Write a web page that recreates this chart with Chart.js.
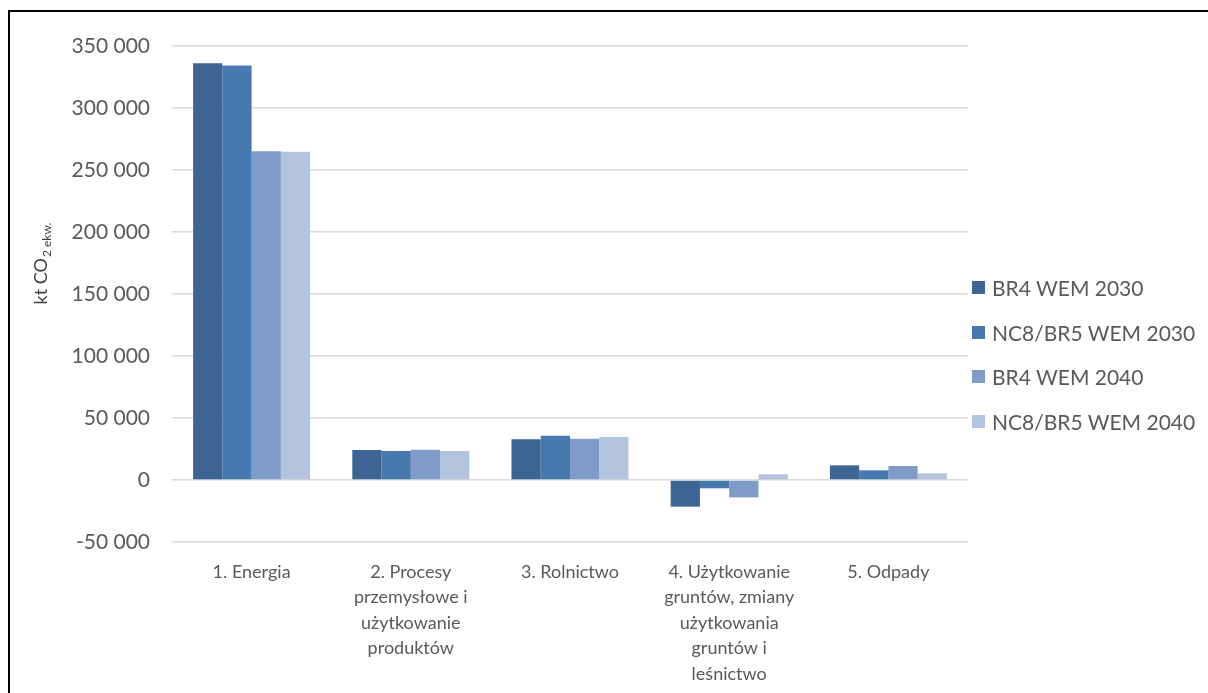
<!DOCTYPE html>
<html lang="pl">
<head>
<meta charset="utf-8">
<script src="https://cdn.jsdelivr.net/npm/chart.js@4/dist/chart.umd.min.js"></script>
<style>
	html, body { margin: 0; padding: 0; background: #fff; overflow: hidden; }
	#wrap { position: relative; width: 1208px; height: 693px; }
	#frame { position: absolute; left: 8px; top: 10px; width: 1400px; height: 900px; border-left: 2px solid #000; border-top: 2px solid #000; }
	#chart { position: absolute; left: 0; top: 0; }
	#legend { position: absolute; left: 972px; top: 265px; font-family: Lato, 'Liberation Sans', sans-serif; font-size: 21px; color: #595959; }
	#legend div { height: 44.7px; display: flex; align-items: center; white-space: nowrap; }
	#legend span.box { display: inline-block; width: 13px; height: 13px; margin-right: 7px; }
</style>
</head>
<body>
<div id="wrap">
	<div id="frame"></div>
	<canvas id="chart" width="1208" height="693"></canvas>
	<div id="legend"></div>
</div>
<script>
	// Sektory emisji i wartości dla scenariuszy (kt CO2 ekw.)
	const categories = [
		'1. Energia',
		['2. Procesy', 'przemysłowe i', 'użytkowanie', 'produktów'],
		'3. Rolnictwo',
		['4. Użytkowanie', 'gruntów, zmiany', 'użytkowania', 'gruntów i', 'leśnictwo'],
		'5. Odpady'
	]
	const seriesNames = ['BR4 WEM 2030', 'NC8/BR5 WEM 2030', 'BR4 WEM 2040', 'NC8/BR5 WEM 2040']
	const br4Wem2030 = [336000, 24200, 32800, -21500, 11800]
	const nc8Wem2030 = [334300, 23400, 35700, -6700, 7800]
	const br4Wem2040 = [265200, 24400, 33300, -14000, 11300]
	const nc8Wem2040 = [264700, 23400, 34700, 4600, 5400]
	const yTicks = [-50000, 0, 50000, 100000, 150000, 200000, 250000, 300000, 350000]

	const colors = ['#3d6594', '#4878b0', '#7f9bc8', '#b4c4df']
	const seriesValues = [br4Wem2030, nc8Wem2030, br4Wem2040, nc8Wem2040]

	const formatNumber = v => String(v).replace(/\B(?=(\d{3})+(?!\d))/g, ' ')

	// Tytuł osi Y z indeksem dolnym
	const yTitlePlugin = {
		id: 'yTitle',
		afterDraw(chart) {
			const ctx = chart.ctx
			ctx.save()
			ctx.translate(41, 264)
			ctx.rotate(-Math.PI / 2)
			ctx.fillStyle = '#404040'
			ctx.textBaseline = 'middle'
			ctx.font = '18px Lato, "Liberation Sans", sans-serif'
			const main = 'kt CO'
			const wMain = ctx.measureText(main).width
			ctx.font = '12px Lato, "Liberation Sans", sans-serif'
			const sub = '2 ekw.'
			const wSub = ctx.measureText(sub).width
			const start = -(wMain + wSub) / 2
			ctx.font = '18px Lato, "Liberation Sans", sans-serif'
			ctx.textAlign = 'left'
			ctx.fillText(main, start, 0)
			ctx.font = '12px Lato, "Liberation Sans", sans-serif'
			ctx.fillText(sub, start + wMain + 1, 6)
			ctx.restore()
		}
	}

	const ctx = document.getElementById('chart').getContext('2d')
	const chart = new Chart(ctx, {
		type: 'bar',
		data: {
			labels: categories,
			datasets: seriesNames.map((name, i) => ({
				label: name,
				data: seriesValues[i],
				backgroundColor: colors[i],
				borderWidth: 0,
				categoryPercentage: 0.735,
				barPercentage: 1.0
			}))
		},
		options: {
			responsive: false,
			animation: false,
			layout: {
				padding: { top: 46, right: 240, left: 0, bottom: 0 }
			},
			plugins: {
				legend: { display: false },
				tooltip: { enabled: false }
			},
			scales: {
				x: {
					grid: { display: false, drawTicks: false },
					border: { display: false },
					ticks: {
						color: '#595959',
						font: { family: 'Lato, "Liberation Sans", sans-serif', size: 18, lineHeight: 1.42 },
						padding: 17,
						maxRotation: 0,
						autoSkip: false
					},
					afterFit: scale => { scale.height = 151 }
				},
				y: {
					min: -50000,
					max: 350000,
					afterBuildTicks: scale => { scale.ticks = yTicks.map(v => ({ value: v })) },
					grid: { color: '#d9d9d9', lineWidth: 1.5, drawTicks: false },
					border: { display: false },
					ticks: {
						color: '#595959',
						font: { family: 'Lato, "Liberation Sans", sans-serif', size: 21 },
						padding: 22,
						callback: v => formatNumber(v)
					},
					afterFit: scale => { scale.width = 172 }
				}
			}
		},
		plugins: [yTitlePlugin]
	})

	// Legenda po prawej stronie
	const legend = document.getElementById('legend')
	chart.data.datasets.forEach(ds => {
		const row = document.createElement('div')
		row.innerHTML = `<span class="box" style="background:${ds.backgroundColor}"></span>${ds.label}`
		legend.appendChild(row)
	})
</script>
</body>
</html>
